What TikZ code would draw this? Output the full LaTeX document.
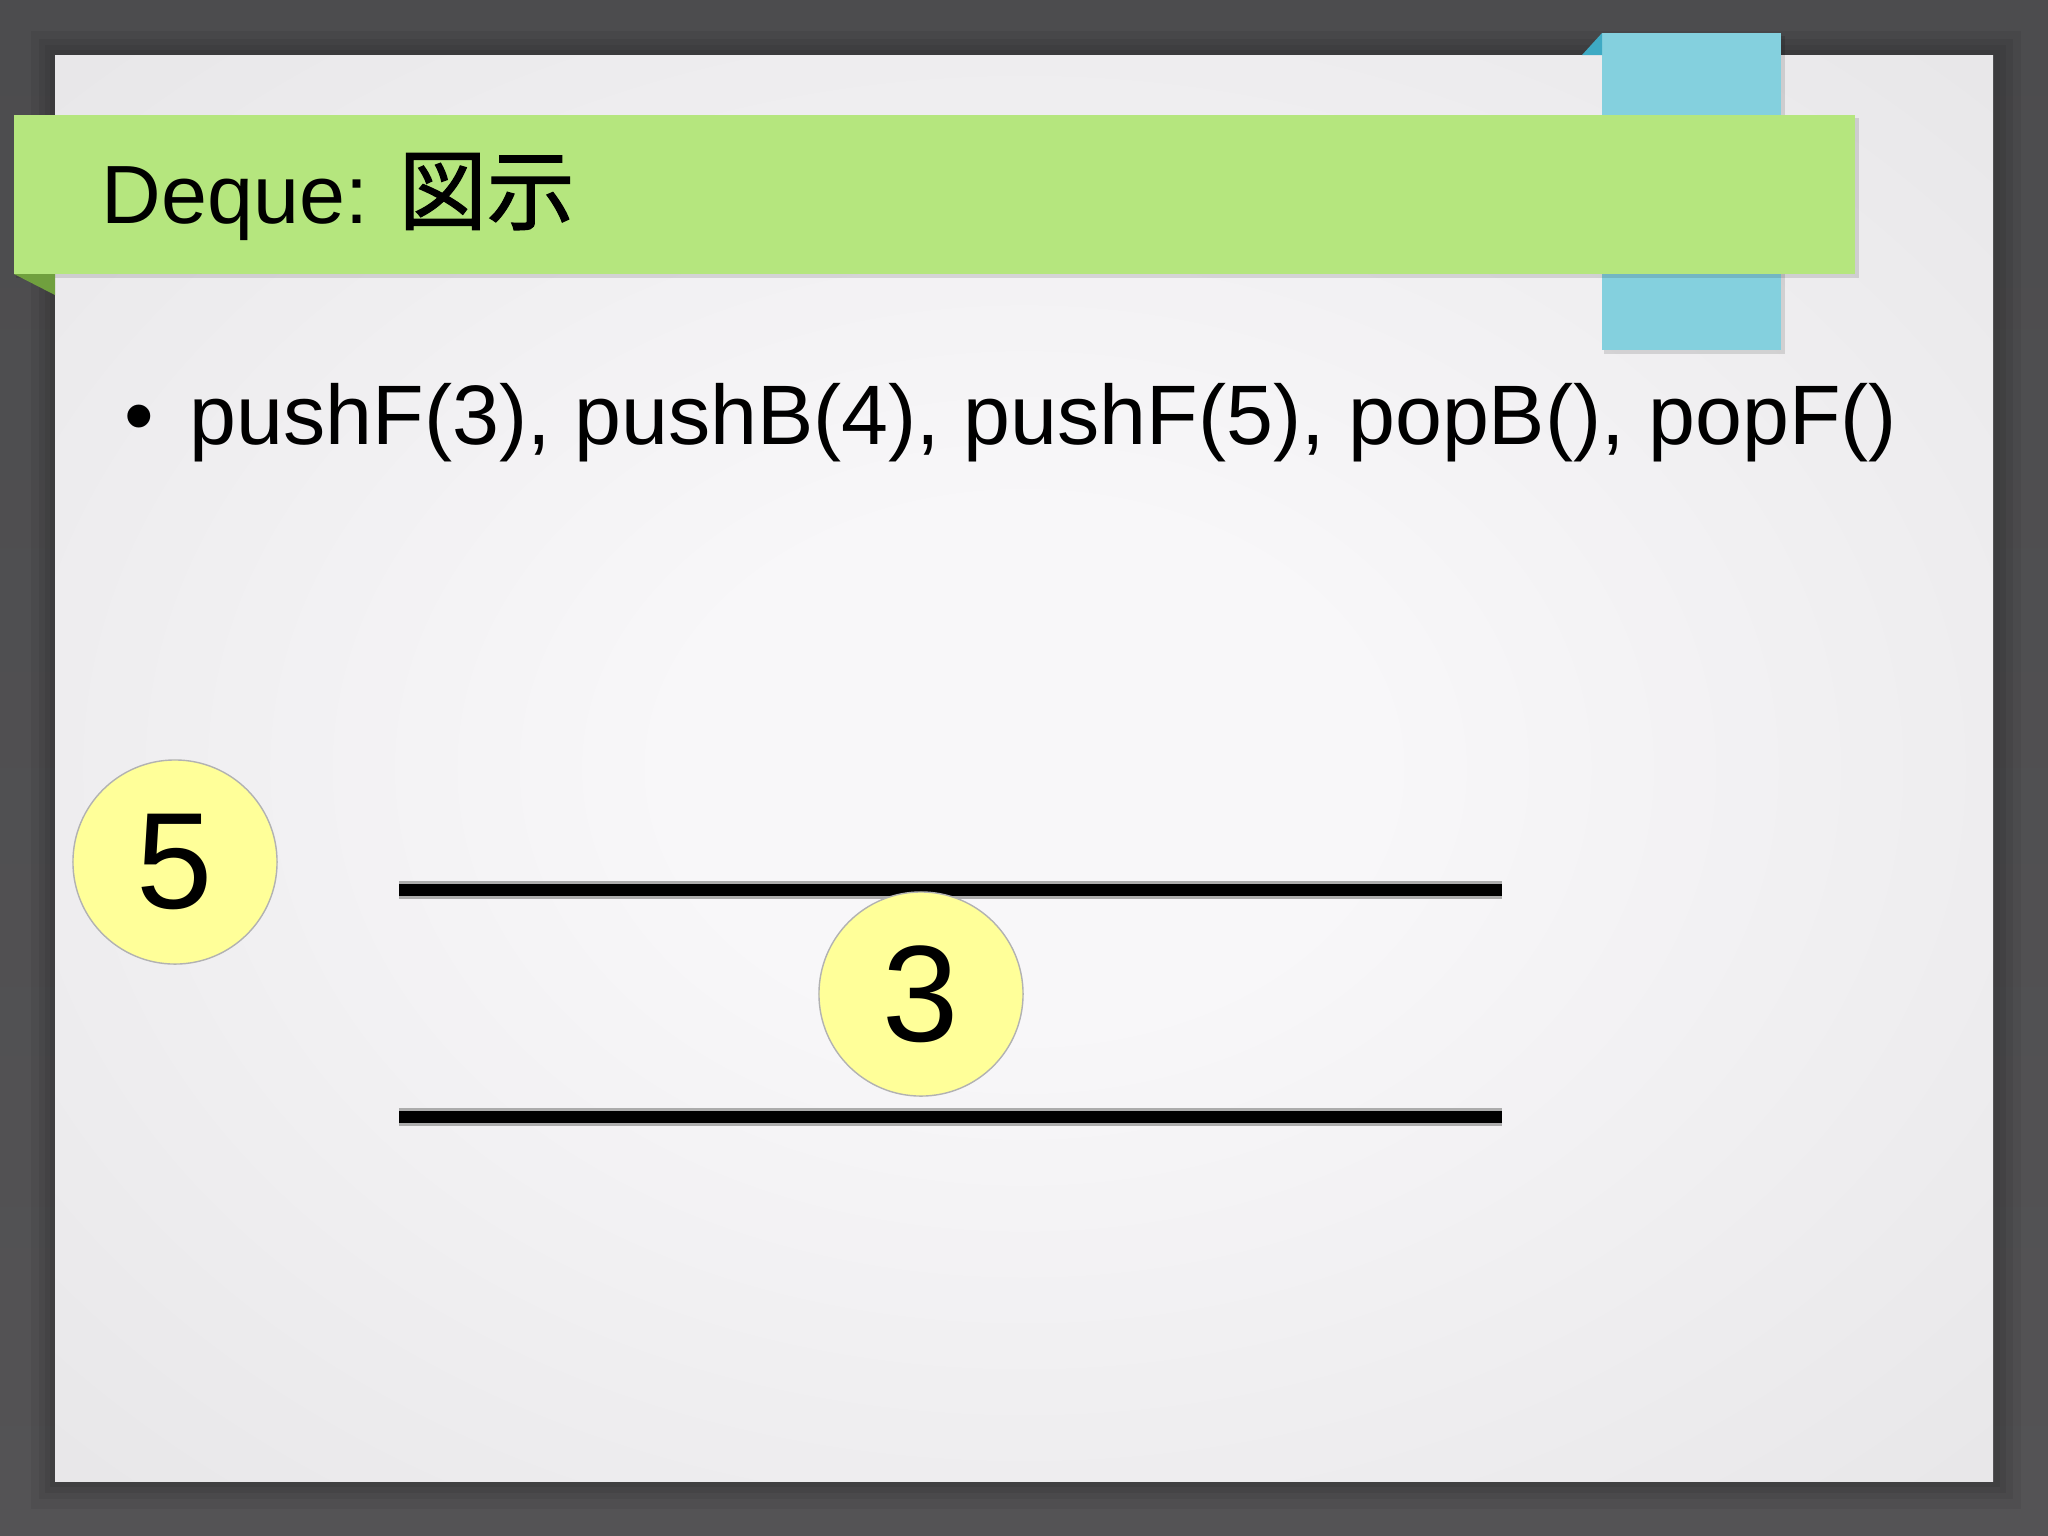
\documentclass[tikz,border=0pt]{standalone}
\usepackage{fontspec}
\setmainfont{Liberation Sans}
\newfontfamily\jpfont[FakeBold = 1.3]{Noto Sans CJK JP}
\definecolor{backgray}{RGB}{76,76,78}
\definecolor{backlight}{RGB}{84,83,85}
\definecolor{papermid}{RGB}{248,247,249}
\definecolor{paperedge}{RGB}{225,224,226}
\definecolor{bannergreen}{RGB}{181,230,126}
\definecolor{foldgreen}{RGB}{112,160,62}
\definecolor{tabblue}{RGB}{132,208,222}
\definecolor{foldblue}{RGB}{62,170,196}
\definecolor{ballyellow}{RGB}{255,255,153}
\pgfdeclareradialshading{paperglow}{\pgfpoint{0bp}{0bp}}{color(0bp)=(papermid); color(9bp)=(papermid); color(46bp)=(paperedge)}
\tikzset{
    ball/.style = {circle, draw = gray!60, fill = ballyellow, minimum size = 2.04cm, inner sep = 0pt, font = \fontsize{39}{39}\selectfont},
    rail/.style = {line width = 5pt, draw = gray!65},
    railcore/.style = {line width = 3.6pt, draw = black}
}
\begin{document}
\begin{tikzpicture}[x = 0.01cm, y = -0.01cm]
            \useasboundingbox (0,0) rectangle (2048,1535);
            \shade[top color = backgray, bottom color = backlight] (0,0) rectangle (2048,1535);
            \begin{scope}[black, opacity = 0.06]
                \fill (31,31) rectangle (2021,1509);
                \fill (39,39) rectangle (2013,1499);
                \fill (45,45) rectangle (2006,1493);
                \fill (50,50) rectangle (2000,1487);
            \end{scope}
            \shade[shading = paperglow] (55,55) rectangle (1993,1481);
            \begin{scope}
                \fill[black, opacity = 0.12] (1604,36) rectangle (1785,354);
                \fill[tabblue] (1602,33) rectangle (1781,350);
                \fill[foldblue] (1582,55) -- (1602,33) -- (1602,55) -- cycle;
                \fill[black, opacity = 0.12] (16,118) rectangle (1859,278);
                \fill[bannergreen] (14,115) rectangle (1855,274);
                \fill[foldgreen] (14,274) -- (55,274) -- (55,295) -- cycle;
            \end{scope}
            \node[anchor = base west, inner sep = 0pt, font = \fontsize{23.5}{28}\selectfont] (title) at (101,223) {Deque: {\jpfont\fontsize{25}{28}\selectfont 図示}};
            \node[anchor = base west, inner sep = 0pt, font = \fontsize{24}{29}\selectfont] (ops) at (124,444) {\textbullet\hspace{0.42em}pushF(3), pushB(4), pushF(5), popB(), popF()};
            \begin{scope}
                \draw[rail] (399,890) -- (1502,890);
                \draw[railcore] (399,890) -- (1502,890);
                \draw[rail] (399,1117) -- (1502,1117);
                \draw[railcore] (399,1117) -- (1502,1117);
            \end{scope}
            \node[ball] (five) at (175,862) {5};
            \node[ball] (three) at (921,994) {3};
        \end{tikzpicture}
\end{document}
